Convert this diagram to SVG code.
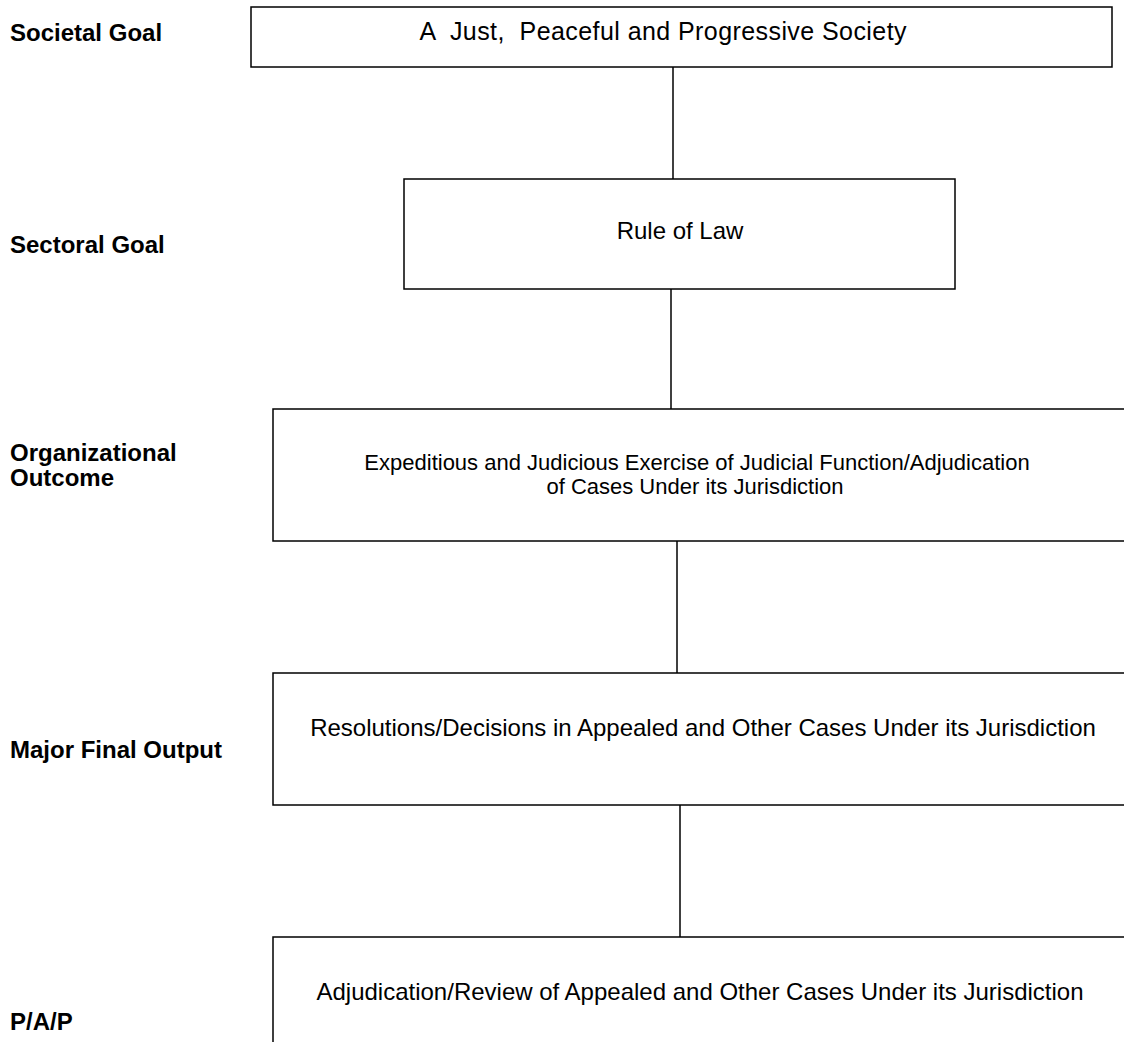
<svg xmlns="http://www.w3.org/2000/svg" width="1124" height="1042" viewBox="0 0 1124 1042">
<style>
.box{fill:#fff;stroke:#000;stroke-width:1.5}
.t{font-family:"Liberation Sans",Arial,sans-serif;font-size:24px;fill:#000;text-anchor:middle;white-space:pre}
.s{font-size:22px}
.l{font-family:"Liberation Sans",Arial,sans-serif;font-size:24px;font-weight:bold;fill:#000}
.c{stroke:#000;stroke-width:1.5;fill:none}
</style>
<rect width="1124" height="1042" fill="#fff"/>
<g id="labels">
<text class="l" x="10" y="41">Societal Goal</text>
<text class="l" x="10" y="253">Sectoral Goal</text>
<text class="l" x="10" y="461">Organizational</text>
<text class="l" x="10" y="486">Outcome</text>
<text class="l" x="10" y="758">Major Final Output</text>
<text class="l" x="10" y="1030">P/A/P</text>
</g>
<g id="connectors">
<line class="c" x1="673" y1="67" x2="673" y2="179"/>
<line class="c" x1="671" y1="289" x2="671" y2="409"/>
<line class="c" x1="677" y1="541" x2="677" y2="673"/>
<line class="c" x1="680" y1="805" x2="680" y2="937"/>
</g>
<g id="n1"><rect class="box" x="251" y="7" width="861" height="60"/><text class="t" x="663" y="40" style="font-size:25px" textLength="487">A  Just,  Peaceful and Progressive Society</text></g>
<g id="n2"><rect class="box" x="404" y="179" width="551" height="110"/><text class="t" x="680" y="239">Rule of Law</text></g>
<g id="n3"><rect class="box" x="273" y="409" width="860" height="132"/><text class="t s" x="697" y="470">Expeditious and Judicious Exercise of Judicial Function/Adjudication</text><text class="t s" x="695" y="494">of Cases Under its Jurisdiction</text></g>
<g id="n4"><rect class="box" x="273" y="673" width="860" height="132"/><text class="t" x="703" y="736">Resolutions/Decisions in Appealed and Other Cases Under its Jurisdiction</text></g>
<g id="n5"><rect class="box" x="273" y="937" width="860" height="132"/><text class="t" x="700" y="1000">Adjudication/Review of Appealed and Other Cases Under its Jurisdiction</text></g>
</svg>
